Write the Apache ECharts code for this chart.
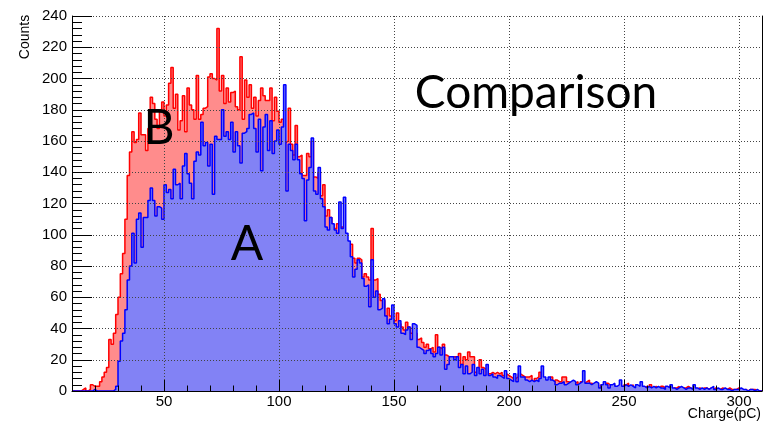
<!DOCTYPE html>
<html>
<head>
<meta charset="utf-8">
<script src="https://cdn.jsdelivr.net/npm/echarts@6/dist/echarts.min.js"></script>
<style>
html,body{margin:0;padding:0;background:#fff;}
#chart{width:765px;height:425px;}
</style>
</head>
<body>
<div id="chart"></div>
<script>
// Histogram binning (pC)
const binStart = 10;
const binWidth = 1;
const xRange = [10, 310];
const yRange = [0, 240];
const yTickStep = 20;

// Series B (red), counts per 1 pC bin from 10 to 310
const countsB = [
  0,0,0,0,1,2,0,1,4,3,
  3,3,6,9,12,15,33,30,37,49,
  60,75,88,110,138,153,166,159,161,178,
  164,164,154,168,188,184,174,168,180,185,
  176,183,197,207,181,190,167,173,189,166,
  194,183,180,174,202,174,177,181,182,201,
  203,200,199,232,192,202,184,194,185,191,
  192,182,180,214,174,199,188,196,181,188,
  176,186,194,189,186,186,194,173,188,179,
  172,174,159,160,181,158,151,170,150,151,
  138,138,152,150,160,137,136,140,125,132,
  112,116,111,98,104,107,101,105,101,95,
  89,94,85,82,85,84,73,75,73,71,
  104,71,72,62,58,58,48,53,48,43,
  45,50,43,41,39,44,41,37,41,37,
  33,34,31,28,30,27,28,25,36,28,
  27,30,23,22,22,22,22,22,24,17,
  22,20,25,22,22,12,13,20,15,14,
  13,11,12,11,12,11,12,10,11,10,
  9,8,8,9,11,10,9,9,9,10,
  6,8,9,12,9,6,6,7,9,5,
  7,6,6,9,9,6,5,6,5,6,
  4,6,5,6,7,5,4,2,4,2,
  4,5,5,4,3,4,2,3,3,2,
  4,5,3,4,2,3,2,3,2,3,
  2,4,2,3,2,1,3,2,2,3,
  1,2,2,3,1,2,2,3,2,1,
  2,1,2,1,2,2,1,2,1,2,
  1,1,2,1,1,2,1,1,1,2,
  1,0,1,0,1,1,1,0,0,0
];

// Series A (blue), counts per 1 pC bin from 10 to 310
const countsA = [
  0,0,0,0,0,0,0,0,0,1,
  0,0,0,0,0,0,0,0,1,3,
  19,32,37,52,71,80,101,82,110,114,
  92,111,111,122,130,122,112,118,117,110,
  132,127,129,123,142,132,133,123,144,152,
  139,133,123,147,153,151,172,157,159,144,
  158,126,163,161,161,180,163,166,161,172,
  153,166,157,146,165,166,168,177,178,168,
  153,174,141,169,177,154,173,152,160,167,
  158,169,196,128,158,154,148,158,148,139,
  136,109,135,143,162,128,126,143,123,118,
  105,103,111,107,103,101,121,104,124,101,
  96,86,73,78,84,82,72,67,68,54,
  84,60,64,52,53,59,48,43,46,55,
  43,41,45,37,36,39,41,33,43,42,
  28,27,26,24,26,27,24,22,24,28,
  23,28,14,17,22,22,20,22,15,17,
  11,16,11,12,17,10,15,11,14,10,
  17,10,11,9,8,10,9,8,13,8,
  7,6,11,6,16,9,9,7,6,7,
  6,7,6,8,16,9,7,9,7,6,
  4,5,5,6,4,5,6,7,6,4,
  5,6,13,5,5,4,5,6,5,2,
  4,6,4,2,4,5,3,4,7,3,
  4,3,4,3,2,4,3,6,3,2,
  3,2,3,2,3,2,2,1,3,2,
  4,2,1,2,3,2,1,2,2,1,
  4,2,1,2,1,2,1,2,3,1,
  2,1,1,2,1,1,0,1,1,1,
  2,1,1,0,1,1,0,1,0,0
];

const titleText = 'Comparison';
const labelA = 'A';
const labelB = 'B';
const xTitle = 'Charge(pC)';
const yTitle = 'Counts';

function toSteps(counts) {
  const pts = counts.map((v, i) => [binStart + i * binWidth, v]);
  pts.push([binStart + counts.length * binWidth, counts[counts.length - 1]]);
  return pts;
}

const chart = echarts.init(document.getElementById('chart'), null, {renderer: 'canvas'});
const gridLine = {show: true, lineStyle: {color: '#444', width: 1, type: [1, 2]}};
const labelFont = {fontFamily: 'Liberation Sans', fontSize: 15, color: '#000'};

chart.setOption({
  animation: false,
  backgroundColor: '#fff',
  grid: {left: 72, top: 16, width: 690, height: 375, containLabel: false},
  xAxis: [{
    type: 'value', min: xRange[0], max: xRange[1], splitNumber: 6, z: 10,
    axisLine: {show: true, onZero: false, lineStyle: {color: '#000', width: 1}},
    axisTick: {show: true, inside: true, length: 11, lineStyle: {color: '#000'}},
    minorTick: {show: true, splitNumber: 5, length: 5.5, lineStyle: {color: '#000'}},
    axisLabel: Object.assign({showMinLabel: false, showMaxLabel: false, margin: 3}, labelFont),
    splitLine: gridLine
  }],
  yAxis: [{
    type: 'value', min: yRange[0], max: yRange[1], interval: yTickStep, z: 10,
    axisLine: {show: true, lineStyle: {color: '#000', width: 1}},
    axisTick: {show: true, inside: true, length: 20, lineStyle: {color: '#000'}},
    minorTick: {show: true, splitNumber: 5, length: 10, lineStyle: {color: '#000'}},
    axisLabel: Object.assign({margin: 5}, labelFont),
    splitLine: gridLine
  }, {
    type: 'value', min: yRange[0], max: yRange[1], position: 'right', z: 10,
    axisLine: {show: true, lineStyle: {color: '#000', width: 1}},
    axisTick: {show: false}, axisLabel: {show: false}, splitLine: {show: false}
  }],
  series: [{
    name: labelB, type: 'line', step: 'end', data: toSteps(countsB),
    showSymbol: false, symbol: 'none', z: 2,
    lineStyle: {color: '#ff0000', width: 1.5},
    areaStyle: {color: '#ff8c8c', opacity: 1}
  }, {
    name: labelA, type: 'line', step: 'end', data: toSteps(countsA),
    showSymbol: false, symbol: 'none', z: 3,
    lineStyle: {color: '#0000ff', width: 1.5},
    areaStyle: {color: '#8282f5', opacity: 1}
  }],
  graphic: [
    {type: 'text', x: 536, y: 93, z: 100, style: {text: titleText, font: '46px Lato', fill: '#000', align: 'center', verticalAlign: 'middle'}},
    {type: 'text', x: 159, y: 129, z: 100, style: {text: labelB, font: '48px Lato', fill: '#000', align: 'center', verticalAlign: 'middle'}},
    {type: 'text', x: 247, y: 245, z: 100, style: {text: labelA, font: '48px Lato', fill: '#000', align: 'center', verticalAlign: 'middle'}},
    {type: 'text', x: 761, y: 414, z: 100, style: {text: xTitle, font: '14px Liberation Sans', fill: '#000', align: 'right', verticalAlign: 'middle'}},
    {type: 'text', x: 25, y: 37, rotation: Math.PI / 2, z: 100, style: {text: yTitle, font: '14px Liberation Sans', fill: '#000', align: 'center', verticalAlign: 'middle'}}
  ]
});
</script>
</body>
</html>
